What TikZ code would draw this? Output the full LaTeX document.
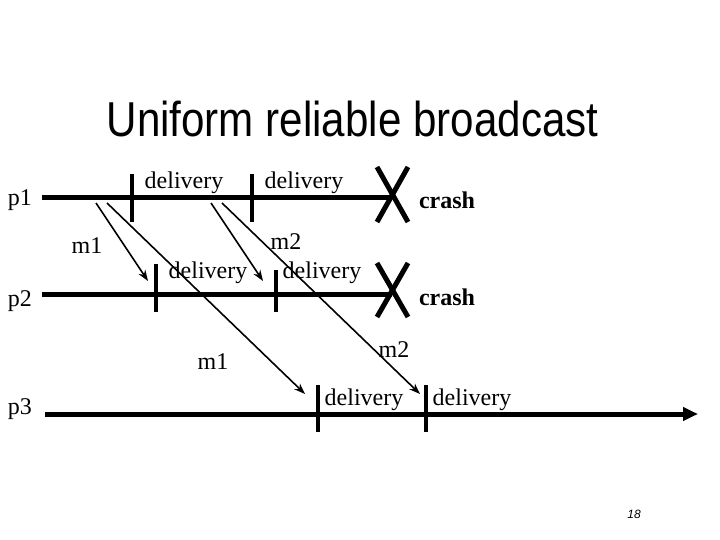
\documentclass[tikz,border=0pt]{standalone}
\usepackage{fontspec}
\setmainfont{Liberation Serif}
\newfontfamily\titlefont{Liberation Sans}
\usetikzlibrary{arrows.meta}
\begin{document}
\begin{tikzpicture}[x=1pt,y=-1pt,
  lbl/.style={inner sep=0pt, anchor=base, font=\fontsize{24}{28}\selectfont},
  crashlbl/.style={inner sep=0pt, anchor=base, font=\fontsize{24}{28}\selectfont\bfseries},
  procline/.style={line width=5pt},
  tickmark/.style={line width=4pt},
  xmark/.style={line width=5pt},
  msg/.style={line width=1.6pt, -{Stealth[length=11pt,width=8pt]}}
]
\fill[white] (0,0) rectangle (720,540);
\useasboundingbox (0,0) rectangle (720,540);

% title
\node[inner sep=0pt, anchor=base] (title) at (352.5,137)
  {\titlefont\fontsize{49}{56}\selectfont\scalebox{0.86}[1]{Uniform reliable broadcast}};

% process labels
\node[lbl] (p1) at (20,206) {p1};
\node[lbl] (p2) at (20,306) {p2};
\node[lbl] (p3) at (20,414) {p3};

% process lines
\coordinate (p1s) at (42,198);
\coordinate (p1x) at (392,198);
\coordinate (p2s) at (42,294);
\coordinate (p2x) at (392,294);
\coordinate (p3s) at (45,414);
\coordinate (p3e) at (698,414);
\draw[procline] (p1s) -- (p1x);
\draw[procline] (p2s) -- (p2x);
\draw[procline, -{Triangle[length=15pt,width=13pt]}] (p3s) -- (p3e);

% crashes
\coordinate (c1a) at (377,167); \coordinate (c1b) at (408,222);
\coordinate (c1c) at (408,167); \coordinate (c1d) at (377,222);
\draw[xmark] (c1a) -- (c1b);
\draw[xmark] (c1c) -- (c1d);
\coordinate (c2a) at (377,263); \coordinate (c2b) at (408,317);
\coordinate (c2c) at (408,263); \coordinate (c2d) at (377,317);
\draw[xmark] (c2a) -- (c2b);
\draw[xmark] (c2c) -- (c2d);
\node[crashlbl] (crash1) at (447,209) {crash};
\node[crashlbl] (crash2) at (447,305) {crash};

% delivery ticks
\coordinate (t1a) at (132,174); \coordinate (t1b) at (132,222);
\coordinate (t2a) at (252,174); \coordinate (t2b) at (252,222);
\coordinate (t3a) at (156,264); \coordinate (t3b) at (156,312);
\coordinate (t4a) at (276,270); \coordinate (t4b) at (276,312);
\coordinate (t5a) at (318,385); \coordinate (t5b) at (318,432);
\coordinate (t6a) at (426,385); \coordinate (t6b) at (426,432);
\draw[tickmark] (t1a) -- (t1b);
\draw[tickmark] (t2a) -- (t2b);
\draw[tickmark] (t3a) -- (t3b);
\draw[tickmark] (t4a) -- (t4b);
\draw[tickmark] (t5a) -- (t5b);
\draw[tickmark] (t6a) -- (t6b);

% delivery labels
\node[lbl] (d1) at (184,189) {delivery};
\node[lbl] (d2) at (304,189) {delivery};
\node[lbl] (d3) at (208,278) {delivery};
\node[lbl] (d4) at (322,278) {delivery};
\node[lbl] (d5) at (364,405) {delivery};
\node[lbl] (d6) at (472,405) {delivery};

% messages
\coordinate (m1as) at (96,203);  \coordinate (m1ae) at (148,281);
\coordinate (m1bs) at (107,203); \coordinate (m1be) at (305,394);
\coordinate (m2as) at (211,203); \coordinate (m2ae) at (263,281);
\coordinate (m2bs) at (222,203); \coordinate (m2be) at (420,394);
\draw[msg] (m1as) -- (m1ae);
\draw[msg] (m1bs) -- (m1be);
\draw[msg] (m2as) -- (m2ae);
\draw[msg] (m2bs) -- (m2be);

\node[lbl] (m1u) at (87,254) {m1};
\node[lbl] (m2u) at (286,249) {m2};
\node[lbl] (m1l) at (213,369) {m1};
\node[lbl] (m2l) at (394,357) {m2};

% page number
\node[inner sep=0pt, anchor=base, font=\titlefont\itshape\fontsize{12}{14}\selectfont] (pg) at (634,518) {18};
\end{tikzpicture}
\end{document}
